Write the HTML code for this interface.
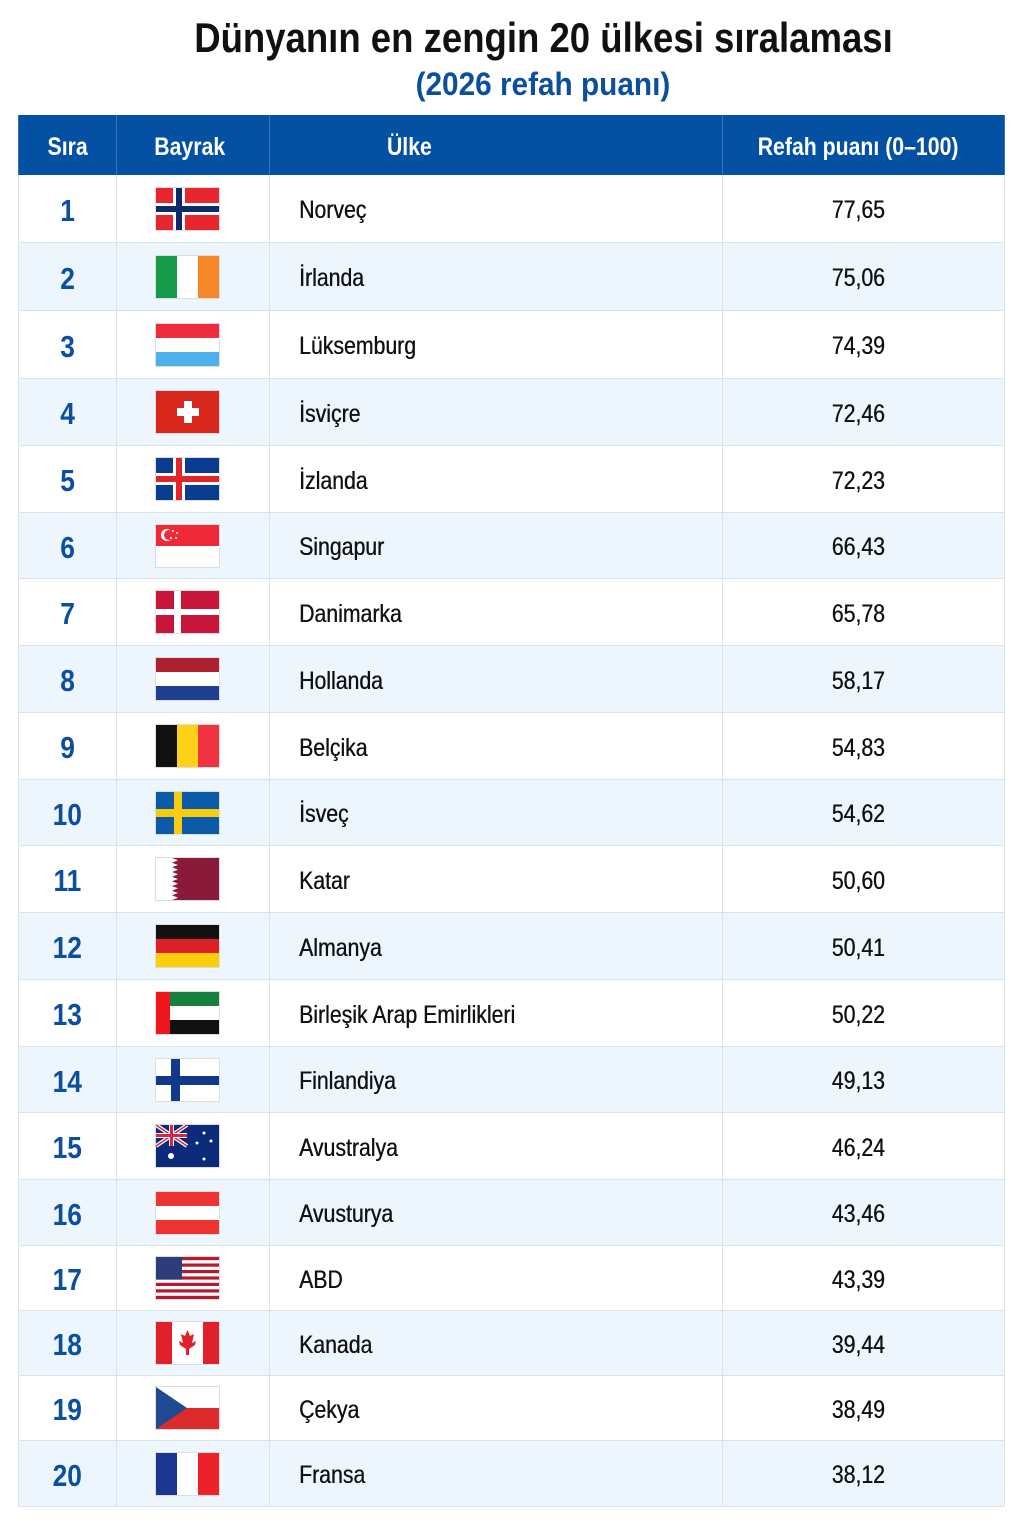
<!DOCTYPE html>
<html><head><meta charset="utf-8">
<style>
body{margin:0;width:1022px;height:1539px;background:#fff;position:relative;font-family:"Liberation Sans",sans-serif;overflow:hidden}
.t{position:absolute;left:32px;width:1022px;text-align:center;font-weight:bold}
.t span{display:inline-block;transform:scaleX(.87)}
#tb{position:absolute;left:18px;top:115px;width:987px}
.r{position:absolute;left:0;width:987px;border-bottom:1px solid #dbe2ea;box-sizing:border-box}
.r.a{background:#edf5fd}
.c{position:absolute;top:0;height:100%;display:flex;align-items:center;box-sizing:border-box}
.c1{left:0;width:98px;justify-content:center;border-left:1px solid #dbe2ea}
.c2{left:98px;width:153px;justify-content:center;padding-right:12px;border-left:1px solid #dbe2ea}
.c3{left:251px;width:453px;padding-left:29px;border-left:1px solid #dbe2ea}
.c4{left:704px;width:283px;justify-content:center;padding-right:10px;border-left:1px solid #dbe2ea;border-right:1px solid #dbe2ea}
.h{background:#0451a3;color:#fff;font-weight:bold;font-size:25px;border:none}
.h .c{border-color:#3a72b8;padding-top:5px}
.h .c2{padding-right:6px}
.n{color:#0b4f9e;font-weight:bold;font-size:31px;padding-top:4px}
.n span,.s span,.h span{display:inline-block;transform:scaleX(.85)}
.k{font-size:25px;color:#111;padding-top:4px;text-shadow:0.4px 0 0 #111}
.k span{display:inline-block;transform:scaleX(.85);transform-origin:left center}
.s{font-size:25px;color:#111;padding-top:4px;text-shadow:0.4px 0 0 #111}
svg{width:63px;height:42px;display:block;outline:1px solid #ddd}
</style></head><body>
<div class="t" style="top:14px;font-size:42px;color:#111"><span>Dünyanın en zengin 20 ülkesi sıralaması</span></div>
<div class="t" style="top:66px;font-size:32px;color:#0b4f9e"><span style="transform:scaleX(.93)">(2026 refah puanı)</span></div>
<div id="tb">
<div class="r h" style="top:0;height:60px"><div class="c c1"><span>Sıra</span></div><div class="c c2"><span>Bayrak</span></div><div class="c c3" style="padding-left:113px"><span>Ülke</span></div><div class="c c4"><span>Refah puanı (0–100)</span></div></div>

<div class="r" style="top:60px;height:68px"><div class="c c1 n"><span>1</span></div><div class="c c2"><svg viewBox="0 0 63 42" preserveAspectRatio="none"><rect width="63" height="42" fill="#e8262f"/><rect x="17" width="12" height="42" fill="#fff"/><rect y="15" width="63" height="12" fill="#fff"/><rect x="20" width="6" height="42" fill="#0d2a6b"/><rect y="18" width="63" height="6" fill="#0d2a6b"/></svg></div><div class="c c3 k"><span>Norveç</span></div><div class="c c4 s"><span>77,65</span></div></div>

<div class="r a" style="top:128px;height:68px"><div class="c c1 n"><span>2</span></div><div class="c c2"><svg viewBox="0 0 63 42" preserveAspectRatio="none"><rect width="21" height="42" fill="#169b4a"/><rect x="21" width="21" height="42" fill="#fff"/><rect x="42" width="21" height="42" fill="#f7882a"/></svg></div><div class="c c3 k"><span>İrlanda</span></div><div class="c c4 s"><span>75,06</span></div></div>

<div class="r" style="top:196px;height:68px"><div class="c c1 n"><span>3</span></div><div class="c c2"><svg viewBox="0 0 63 42" preserveAspectRatio="none"><rect width="63" height="14" fill="#ee2d3c"/><rect y="14" width="63" height="14" fill="#fff"/><rect y="28" width="63" height="14" fill="#4db2ec"/></svg></div><div class="c c3 k"><span>Lüksemburg</span></div><div class="c c4 s"><span>74,39</span></div></div>

<div class="r a" style="top:264px;height:67px"><div class="c c1 n"><span>4</span></div><div class="c c2"><svg viewBox="0 0 63 42" preserveAspectRatio="none"><rect width="63" height="42" fill="#d9261c"/><rect x="28" y="10" width="8" height="22" fill="#fff"/><rect x="21" y="17" width="22" height="8" fill="#fff"/></svg></div><div class="c c3 k"><span>İsviçre</span></div><div class="c c4 s"><span>72,46</span></div></div>

<div class="r" style="top:331px;height:67px"><div class="c c1 n"><span>5</span></div><div class="c c2"><svg viewBox="0 0 63 42" preserveAspectRatio="none"><rect width="63" height="42" fill="#0a3d91"/><rect x="17" width="12" height="42" fill="#fff"/><rect y="15" width="63" height="12" fill="#fff"/><rect x="20" width="6" height="42" fill="#e0262c"/><rect y="18" width="63" height="6" fill="#e0262c"/></svg></div><div class="c c3 k"><span>İzlanda</span></div><div class="c c4 s"><span>72,23</span></div></div>

<div class="r a" style="top:398px;height:66px"><div class="c c1 n"><span>6</span></div><div class="c c2"><svg viewBox="0 0 63 42" preserveAspectRatio="none"><rect width="63" height="21" fill="#ee2a39"/><rect y="21" width="63" height="21" fill="#fff"/><circle cx="11" cy="10" r="6" fill="#fff"/><circle cx="13" cy="10" r="5" fill="#ee2a39"/><circle cx="17" cy="6" r="1" fill="#fff"/><circle cx="21" cy="8" r="1" fill="#fff"/><circle cx="20" cy="13" r="1" fill="#fff"/><circle cx="15" cy="13" r="1" fill="#fff"/></svg></div><div class="c c3 k"><span>Singapur</span></div><div class="c c4 s"><span>66,43</span></div></div>

<div class="r" style="top:464px;height:67px"><div class="c c1 n"><span>7</span></div><div class="c c2"><svg viewBox="0 0 63 42" preserveAspectRatio="none"><rect width="63" height="42" fill="#c8153a"/><rect x="18" width="7" height="42" fill="#fff"/><rect y="18" width="63" height="6" fill="#fff"/></svg></div><div class="c c3 k"><span>Danimarka</span></div><div class="c c4 s"><span>65,78</span></div></div>

<div class="r a" style="top:531px;height:67px"><div class="c c1 n"><span>8</span></div><div class="c c2"><svg viewBox="0 0 63 42" preserveAspectRatio="none"><rect width="63" height="14" fill="#ae1f30"/><rect y="14" width="63" height="14" fill="#fff"/><rect y="28" width="63" height="14" fill="#1e3f8f"/></svg></div><div class="c c3 k"><span>Hollanda</span></div><div class="c c4 s"><span>58,17</span></div></div>

<div class="r" style="top:598px;height:67px"><div class="c c1 n"><span>9</span></div><div class="c c2"><svg viewBox="0 0 63 42" preserveAspectRatio="none"><rect width="21" height="42" fill="#111"/><rect x="21" width="21" height="42" fill="#fcd116"/><rect x="42" width="21" height="42" fill="#ef3340"/></svg></div><div class="c c3 k"><span>Belçika</span></div><div class="c c4 s"><span>54,83</span></div></div>

<div class="r a" style="top:665px;height:66px"><div class="c c1 n"><span>10</span></div><div class="c c2"><svg viewBox="0 0 63 42" preserveAspectRatio="none"><rect width="63" height="42" fill="#0a5aa8"/><rect x="18" width="8" height="42" fill="#f9cc10"/><rect y="17" width="63" height="8" fill="#f9cc10"/></svg></div><div class="c c3 k"><span>İsveç</span></div><div class="c c4 s"><span>54,62</span></div></div>

<div class="r" style="top:731px;height:67px"><div class="c c1 n"><span>11</span></div><div class="c c2"><svg viewBox="0 0 63 42" preserveAspectRatio="none"><rect width="63" height="42" fill="#8a1a3a"/><polygon points="0,0 16,0 22,2.3 16,4.7 22,7 16,9.3 22,11.7 16,14 22,16.3 16,18.7 22,21 16,23.3 22,25.7 16,28 22,30.3 16,32.7 22,35 16,37.3 22,39.7 16,42 0,42" fill="#fff"/></svg></div><div class="c c3 k"><span>Katar</span></div><div class="c c4 s"><span>50,60</span></div></div>

<div class="r a" style="top:798px;height:67px"><div class="c c1 n"><span>12</span></div><div class="c c2"><svg viewBox="0 0 63 42" preserveAspectRatio="none"><rect width="63" height="14" fill="#111"/><rect y="14" width="63" height="14" fill="#dd1f26"/><rect y="28" width="63" height="14" fill="#fcce0a"/></svg></div><div class="c c3 k"><span>Almanya</span></div><div class="c c4 s"><span>50,41</span></div></div>

<div class="r" style="top:865px;height:67px"><div class="c c1 n"><span>13</span></div><div class="c c2"><svg viewBox="0 0 63 42" preserveAspectRatio="none"><rect width="63" height="14" fill="#16803c"/><rect y="14" width="63" height="14" fill="#fff"/><rect y="28" width="63" height="14" fill="#111"/><rect width="14" height="42" fill="#f0141e"/></svg></div><div class="c c3 k"><span>Birleşik Arap Emirlikleri</span></div><div class="c c4 s"><span>50,22</span></div></div>

<div class="r a" style="top:932px;height:66px"><div class="c c1 n"><span>14</span></div><div class="c c2"><svg viewBox="0 0 63 42" preserveAspectRatio="none"><rect width="63" height="42" fill="#fff"/><rect x="15" width="9" height="42" fill="#12388a"/><rect y="17" width="63" height="9" fill="#12388a"/></svg></div><div class="c c3 k"><span>Finlandiya</span></div><div class="c c4 s"><span>49,13</span></div></div>

<div class="r" style="top:998px;height:67px"><div class="c c1 n"><span>15</span></div><div class="c c2"><svg viewBox="0 0 63 42" preserveAspectRatio="none"><rect width="63" height="42" fill="#0b2a7a"/><path d="M0 0L31 21M31 0L0 21" stroke="#fff" stroke-width="4"/><path d="M0 0L31 21M31 0L0 21" stroke="#d7263d" stroke-width="1.5"/><rect x="13" width="5" height="21" fill="#fff"/><rect y="8" width="31" height="5" fill="#fff"/><rect x="14" width="3" height="21" fill="#d7263d"/><rect y="9" width="31" height="3" fill="#d7263d"/><circle cx="15" cy="31" r="3" fill="#fff"/><circle cx="48" cy="8" r="1.5" fill="#fff"/><circle cx="41" cy="18" r="1.5" fill="#fff"/><circle cx="55" cy="16" r="1.5" fill="#fff"/><circle cx="48" cy="34" r="1.5" fill="#fff"/></svg></div><div class="c c3 k"><span>Avustralya</span></div><div class="c c4 s"><span>46,24</span></div></div>

<div class="r a" style="top:1065px;height:66px"><div class="c c1 n"><span>16</span></div><div class="c c2"><svg viewBox="0 0 63 42" preserveAspectRatio="none"><rect width="63" height="42" fill="#ee3333"/><rect y="14" width="63" height="14" fill="#fff"/></svg></div><div class="c c3 k"><span>Avusturya</span></div><div class="c c4 s"><span>43,46</span></div></div>

<div class="r" style="top:1131px;height:65px"><div class="c c1 n"><span>17</span></div><div class="c c2"><svg viewBox="0 0 63 42" preserveAspectRatio="none"><rect width="63" height="42" fill="#fff"/><g fill="#b31a2e"><rect y="0" width="63" height="3.2"/><rect y="6.5" width="63" height="3.2"/><rect y="13" width="63" height="3.2"/><rect y="19.4" width="63" height="3.2"/><rect y="25.8" width="63" height="3.2"/><rect y="32.3" width="63" height="3.2"/><rect y="38.8" width="63" height="3.2"/></g><rect width="26" height="22.6" fill="#2d3d7a"/></svg></div><div class="c c3 k"><span>ABD</span></div><div class="c c4 s"><span>43,39</span></div></div>

<div class="r a" style="top:1196px;height:65px"><div class="c c1 n"><span>18</span></div><div class="c c2"><svg viewBox="0 0 63 42" preserveAspectRatio="none"><rect width="63" height="42" fill="#fff"/><rect width="16" height="42" fill="#e0202a"/><rect x="47" width="16" height="42" fill="#e0202a"/><polygon points="31.5,8 34,14 38,12 36,21 40,19 39,23 33,27 33,33 30,33 30,27 24,23 23,19 27,21 25,12 29,14" fill="#e0202a"/></svg></div><div class="c c3 k"><span>Kanada</span></div><div class="c c4 s"><span>39,44</span></div></div>

<div class="r" style="top:1261px;height:65px"><div class="c c1 n"><span>19</span></div><div class="c c2"><svg viewBox="0 0 63 42" preserveAspectRatio="none"><rect width="63" height="21" fill="#fff"/><rect y="21" width="63" height="21" fill="#dd2a2a"/><polygon points="0,0 31,21 0,42" fill="#1f4a92"/></svg></div><div class="c c3 k"><span>Çekya</span></div><div class="c c4 s"><span>38,49</span></div></div>

<div class="r a" style="top:1326px;height:66px"><div class="c c1 n"><span>20</span></div><div class="c c2"><svg viewBox="0 0 63 42" preserveAspectRatio="none"><rect width="21" height="42" fill="#1b3591"/><rect x="21" width="21" height="42" fill="#fff"/><rect x="42" width="21" height="42" fill="#ee2029"/></svg></div><div class="c c3 k"><span>Fransa</span></div><div class="c c4 s"><span>38,12</span></div></div>
</div>
</body></html>
